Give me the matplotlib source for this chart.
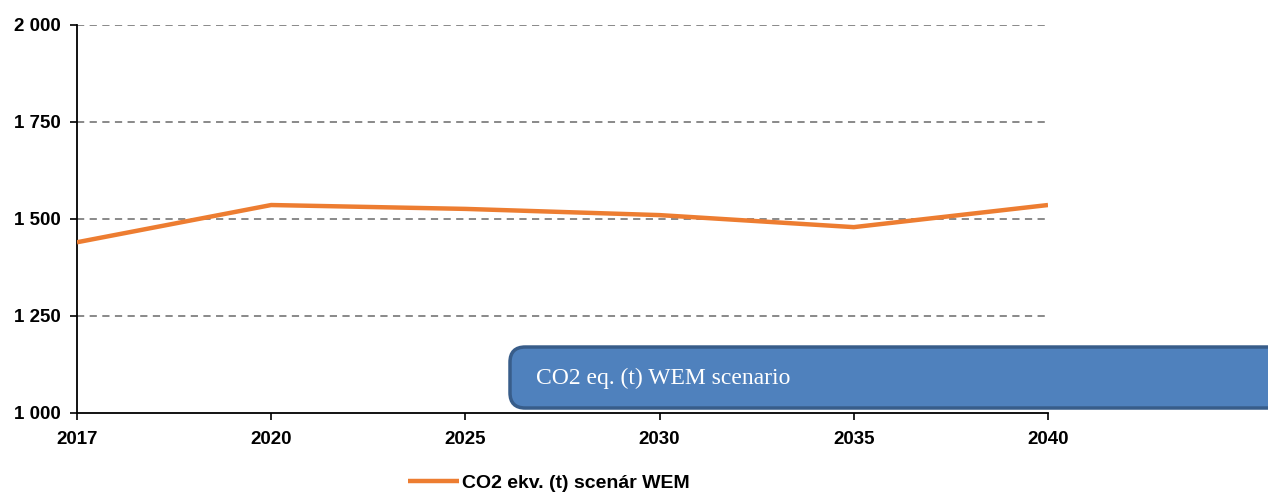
import matplotlib

matplotlib.use("Agg")
import matplotlib.pyplot as plt
from matplotlib.patches import FancyBboxPatch
from matplotlib.ticker import FuncFormatter

years = ["2017", "2020", "2025", "2030", "2035", "2040"]
co2_wem = [1440, 1536, 1526, 1510, 1479, 1536]
series_label = "CO2 ekv. (t) scenár WEM"
box_text = "CO2 eq. (t) WEM scenario"
y_ticks = [1000, 1250, 1500, 1750, 2000]

plt.rcParams["font.family"] = ["Liberation Sans", "DejaVu Sans"]

fig = plt.figure(figsize=(12.68, 4.92), dpi=100)
ax = fig.add_axes([0.0607, 0.1606, 0.7658, 0.7886])

x = list(range(len(years)))
ax.plot(x, co2_wem, color="#ED7D31", linewidth=3.2, label=series_label,
        solid_capstyle="butt", zorder=3)

ax.set_xlim(0, len(years) - 1)
ax.set_ylim(1000, 2000)
ax.set_xticks(x)
ax.set_xticklabels(years)
ax.set_yticks(y_ticks)
ax.yaxis.set_major_formatter(FuncFormatter(lambda v, _: f"{int(v):,}".replace(",", " ")))

for lbl in ax.get_xticklabels() + ax.get_yticklabels():
    lbl.set_fontweight("bold")
    lbl.set_fontsize(13.5)

ax.tick_params(axis="both", direction="out", length=5, width=1.2, color="black")
ax.tick_params(axis="x", pad=8)
ax.tick_params(axis="y", pad=7)

for yv in y_ticks[1:]:
    ax.axhline(yv, color="#808080", linestyle=(0, (4, 3)), linewidth=1.3, zorder=1)

for side in ["top", "right"]:
    ax.spines[side].set_visible(False)
for side in ["left", "bottom"]:
    ax.spines[side].set_linewidth(1.3)
    ax.spines[side].set_color("black")

# blue annotation box running off the right edge
box = FancyBboxPatch((0.4022, 0.1707), 0.62, 0.124,
                     boxstyle="round,pad=0,rounding_size=0.012",
                     transform=fig.transFigure, facecolor="#4F81BD",
                     edgecolor="#385D8A", linewidth=2.5, clip_on=False,
                     mutation_aspect=2.58)
fig.patches.append(box)
fig.text(0.4227, 0.2317, box_text, color="white", fontsize=17,
         family=["Liberation Serif", "DejaVu Serif"], va="center", ha="left")

leg = fig.legend(loc="center left", bbox_to_anchor=(0.3218, 0.018), frameon=False,
                 handlelength=2.6, handletextpad=0.2, borderpad=0, borderaxespad=0,
                 prop={"weight": "bold", "size": 14})

fig.savefig("out.png", dpi=100)
plt.close(fig)
